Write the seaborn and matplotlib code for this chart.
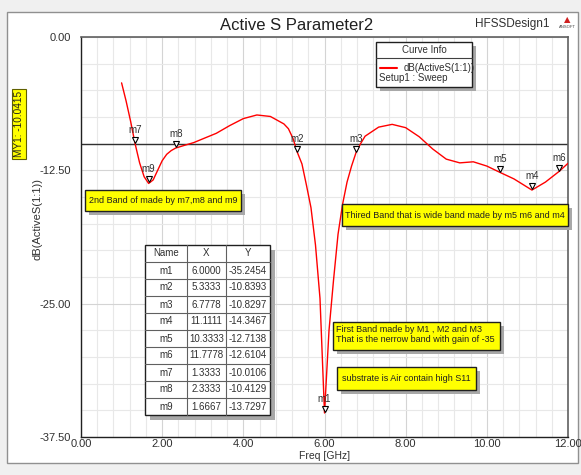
import numpy as np
import pandas as pd
import matplotlib
matplotlib.use("Agg")
import matplotlib.pyplot as plt
import seaborn as sns
from matplotlib.patches import Rectangle
from matplotlib.lines import Line2D
from matplotlib.ticker import MultipleLocator
import matplotlib.transforms as mtransforms

# ---------------- data ----------------
freq = [1.0, 1.1111, 1.2222, 1.3333, 1.4444, 1.5556, 1.6667, 1.7778, 1.8889, 2.0,
        2.1111, 2.2222, 2.3333, 2.5556, 2.7778, 3.0, 3.3333, 3.6667, 4.0, 4.3333,
        4.6667, 5.0, 5.1111, 5.2222, 5.3333, 5.4444, 5.5556, 5.6667, 5.7778, 5.8889,
        6.0, 6.1111, 6.2222, 6.3333, 6.4444, 6.5556, 6.6667, 6.7778, 6.8889, 7.0,
        7.3333, 7.6667, 8.0, 8.3333, 8.6667, 9.0, 9.3333, 9.6667, 10.0, 10.3333,
        10.6667, 11.1111, 11.4444, 11.7778, 12.0]
s11 = [-4.3, -6.0, -7.9, -10.01, -11.8, -13.1, -13.73, -13.4, -12.5, -11.6,
       -11.0, -10.65, -10.41, -10.15, -9.9, -9.55, -9.03, -8.3, -7.65, -7.31,
       -7.45, -8.15, -8.6, -9.5, -10.84, -11.9, -13.9, -16.0, -19.5, -24.5,
       -35.25, -27.5, -22.8, -18.5, -15.7, -13.6, -12.1, -10.83, -10.0, -9.3,
       -8.45, -8.19, -8.5, -9.35, -10.5, -11.45, -11.8, -11.7, -12.1, -12.71,
       -13.3, -14.35, -13.6, -12.61, -11.84]

marker_names = ["m1", "m2", "m3", "m4", "m5", "m6", "m7", "m8", "m9"]
marker_x = [6.0, 5.3333, 6.7778, 11.1111, 10.3333, 11.7778, 1.3333, 2.3333, 1.6667]
marker_y = [-35.2454, -10.8393, -10.8297, -14.3467, -12.7138, -12.6104, -10.0106, -10.4129, -13.7297]
my1_value = -10.0415

x_ticks = [0, 2, 4, 6, 8, 10, 12]
y_ticks = [0.0, -12.5, -25.0, -37.5]

title = "Active S Parameter2"
design = "HFSSDesign1"
x_label = "Freq [GHz]"
y_label = "dB(ActiveS(1:1))"
curve_name = "dB(ActiveS(1:1))"
setup_name = "Setup1 : Sweep"
note_band2 = "2nd Band of made by m7,m8 and m9"
note_band3 = "Thired Band that is wide band made by m5 m6 and m4"
note_band1 = "First Band made by M1 , M2 and M3\nThat is the nerrow band with gain of -35"
note_sub = "substrate is Air contain high S11"

# ---------------- style ----------------
sns.set_style("white")
plt.rcParams['font.family'] = ['Liberation Sans', 'DejaVu Sans']

W, H = 581, 475
fig = plt.figure(figsize=(W / 100, H / 100), dpi=100, facecolor='#f0f0f0')


def fx(px):
    return px / W


def fy(py):
    return 1 - py / H


# white panel
fig.patches.append(Rectangle((fx(7), fy(463)), fx(578) - fx(7), fy(12) - fy(463),
                             transform=fig.transFigure, facecolor='white',
                             edgecolor='#909090', lw=1, zorder=-5))

ax = fig.add_axes([fx(81), fy(437), fx(568) - fx(81), fy(37) - fy(437)])
ax.set_facecolor('white')

df = pd.DataFrame({"Freq": freq, "dB": s11})
sns.lineplot(data=df, x="Freq", y="dB", color='red', lw=1, ax=ax, sort=False,
             estimator=None, zorder=3)

ax.axhline(my1_value, color='#303030', lw=1, zorder=2)

ax.set_xlim(0, 12)
ax.set_ylim(-37.5, 0)
ax.set_xticks(x_ticks)
ax.set_xticklabels([f"{v:.2f}" for v in x_ticks])
ax.set_yticks(y_ticks)
ax.set_yticklabels([f"{v:.2f}" for v in y_ticks])
ax.xaxis.set_minor_locator(MultipleLocator(0.4))
ax.yaxis.set_minor_locator(MultipleLocator(2.5))
ax.grid(which='minor', color='#e8e8e8', lw=0.8)
ax.grid(which='major', color='#d4d4d4', lw=0.8)
ax.set_axisbelow(True)
ax.tick_params(axis='x', which='major', direction='out', length=3, width=0.8, color='#303030',
               labelsize=8, labelcolor='#303030', pad=-1.5)
ax.tick_params(axis='x', which='minor', direction='out', length=2, width=0.8, color='#303030')
ax.tick_params(axis='y', which='major', direction='out', length=5, width=0.8, color='#303030',
               labelsize=8, labelcolor='#303030', pad=2)
ax.tick_params(axis='y', which='minor', direction='out', length=3, width=0.8, color='#303030')
ax.tick_params(top=False, right=False, which='both')
for s in ['left', 'bottom']:
    ax.spines[s].set_color('#202020')
    ax.spines[s].set_linewidth(1.0)
for s in ['top', 'right']:
    ax.spines[s].set_color('#606060')
    ax.spines[s].set_linewidth(1.2)

ax.set_xlabel(x_label, fontsize=7.5, color='#303030')
ax.xaxis.set_label_coords(0.5, -0.036)
ax.set_ylabel(y_label, fontsize=8, color='#303030')
ax.yaxis.set_label_coords(-0.08, 0.545)

# markers
trans = mtransforms.offset_copy(ax.transData, fig=fig, x=0, y=4, units='dots')
ax.plot(marker_x, marker_y, ls='none', marker='v', ms=5, mfc='white', mec='black',
        mew=0.8, transform=trans, clip_on=False, zorder=4)
for n, x, y in zip(marker_names, marker_x, marker_y):
    ax.annotate(n, (x, y), xytext=(0, 9), textcoords='offset pixels', ha='center',
                va='bottom', fontsize=7, color='#303030', zorder=5, annotation_clip=False)

# titles
fig.text(fx(297), fy(26), title, ha='center', va='center', fontsize=12, color='#202020')
fig.text(fx(512), fy(24), design, ha='center', va='center', fontsize=8.5, color='#303030')
fig.text(fx(567), fy(20), "\u25B2", ha='center', va='center', fontsize=6, color='#d02020',
         family=['DejaVu Sans'])
fig.text(fx(567), fy(27), "ANSOFT", ha='center', va='center', fontsize=3, color='#404040')

# MY1 box
fig.text(fx(19), fy(124), f"MY1: {my1_value:.4f}", rotation=90, ha='center', va='center',
         fontsize=7.2, color='#202020',
         bbox=dict(boxstyle='square,pad=0.2', facecolor='#ffff00', edgecolor='#606000', lw=0.8))


def box(x0, y0, x1, y1, face='white', shadow=4, z=6):
    fig.patches.append(Rectangle((fx(x0 + shadow), fy(y1 + shadow)), fx(x1) - fx(x0),
                                 fy(y0) - fy(y1), transform=fig.transFigure,
                                 facecolor='#a8a8a8', edgecolor='none', zorder=z))
    fig.patches.append(Rectangle((fx(x0), fy(y1)), fx(x1) - fx(x0), fy(y0) - fy(y1),
                                 transform=fig.transFigure, facecolor=face,
                                 edgecolor='#202020', lw=1, zorder=z + 0.1))


# Curve info legend
box(376, 42, 472, 87)
fig.text(fx(424), fy(50), "Curve Info", ha='center', va='center', fontsize=7, color='#303030', zorder=8)
fig.add_artist(Line2D([fx(376), fx(472)], [fy(58), fy(58)], transform=fig.transFigure,
                      color='#404040', lw=0.8, zorder=8))
fig.add_artist(Line2D([fx(380), fx(397)], [fy(68), fy(68)], transform=fig.transFigure,
                      color='red', lw=1.5, zorder=8))
fig.text(fx(404), fy(68), curve_name, ha='left', va='center', fontsize=7, color='#303030', zorder=8)
fig.text(fx(379), fy(78), setup_name, ha='left', va='center', fontsize=7, color='#303030', zorder=8)

# annotation boxes
box(85, 190, 241, 211, face='#ffff00')
fig.text(fx(89), fy(200.5), note_band2, ha='left', va='center', fontsize=6.5, color='#202020', zorder=8)
box(342, 204, 568, 226, face='#ffff00')
fig.text(fx(345), fy(215), note_band3, ha='left', va='center', fontsize=6.5, color='#202020', zorder=8)
box(333, 322, 500, 350, face='#ffff00')
fig.text(fx(336), fy(334.5), note_band1, ha='left', va='center', fontsize=6.5, color='#202020',
         linespacing=1.0, zorder=8)
box(337, 367, 476, 390, face='#ffff00')
fig.text(fx(342), fy(378.5), note_sub, ha='left', va='center', fontsize=6.5, color='#202020', zorder=8)

# marker table
tx0, ty0 = 145, 245
col_w = [42, 39, 44]
row_h = 17
n_rows = len(marker_names) + 1
tw = sum(col_w)
box(tx0, ty0, tx0 + tw, ty0 + row_h * n_rows, face='white', shadow=5)
edges = np.cumsum([tx0] + col_w)
for xe in edges[1:-1]:
    fig.add_artist(Line2D([fx(xe), fx(xe)], [fy(ty0), fy(ty0 + row_h * n_rows)],
                          transform=fig.transFigure, color='#606060', lw=0.8, zorder=8))
for r in range(1, n_rows):
    yy = ty0 + r * row_h
    fig.add_artist(Line2D([fx(tx0), fx(tx0 + tw)], [fy(yy), fy(yy)],
                          transform=fig.transFigure, color='#606060', lw=0.8, zorder=8))
rows = [["Name", "X", "Y"]] + [[n, f"{x:.4f}", f"{y:.4f}"]
                               for n, x, y in zip(marker_names, marker_x, marker_y)]
for r, row in enumerate(rows):
    yc = ty0 + r * row_h + row_h / 2
    for c, val in enumerate(row):
        xc = (edges[c] + edges[c + 1]) / 2
        fig.text(fx(xc), fy(yc), val, ha='center', va='center', fontsize=7,
                 color='#303030', zorder=9)

fig.savefig("out.png", dpi=100, facecolor=fig.get_facecolor())
